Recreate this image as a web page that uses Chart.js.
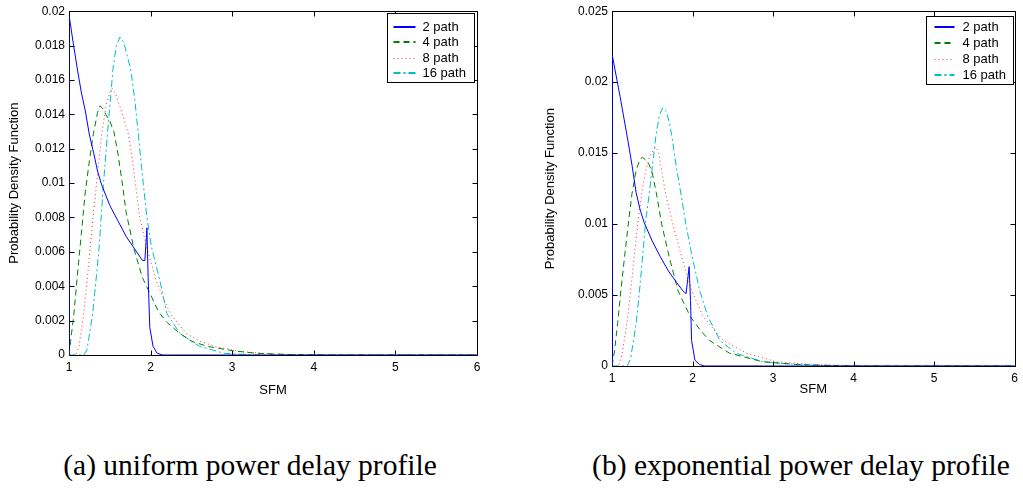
<!DOCTYPE html>
<html lang="en">
<head>
<meta charset="UTF-8">
<title>SFM probability density</title>
<script src="https://cdn.jsdelivr.net/npm/chart.js"></script>
<style>
  body { margin: 0; background: #fff; width: 1023px; height: 491px; position: relative; overflow: hidden; }
  canvas { position: absolute; top: 0; }
  #chartA { left: 0; }
  #chartB { left: 540px; }
  .caption { position: absolute; top: 451px; font-family: "Liberation Serif", "DejaVu Serif", serif; font-size: 29.5px; line-height: 1; white-space: nowrap; transform: translateX(-50%); color: #000; }
</style>
</head>
<body>
<canvas id="chartA" width="500" height="400"></canvas>
<canvas id="chartB" width="483" height="411"></canvas>
<div class="caption" style="left:250px">(a) uniform power delay profile</div>
<div class="caption" style="left:801px">(b) exponential power delay profile</div>

<script>
// tick values
var xTicks = [1, 2, 3, 4, 5, 6];
var yTicksA = [0, 0.002, 0.004, 0.006, 0.008, 0.01, 0.012, 0.014, 0.016, 0.018, 0.02];
var yTicksB = [0, 0.005, 0.01, 0.015, 0.02, 0.025];
var seriesNames = ['2 path', '4 path', '8 path', '16 path'];

// (a) uniform power delay profile
var xU2 = [1, 1.003, 1.05, 1.1, 1.15, 1.2, 1.25, 1.3, 1.35, 1.4, 1.5, 1.6, 1.7, 1.8, 1.9, 1.93, 1.955, 1.97, 1.99, 2.03, 2.08, 2.15, 6];
var yU2 = [0, 0.0197, 0.0182, 0.0167, 0.0153, 0.0142, 0.0128, 0.0118, 0.0107, 0.0099, 0.0087, 0.0078, 0.0069, 0.0062, 0.0055, 0.0055, 0.0074, 0.0045, 0.0016, 0.0005, 0.0001, 0, 0];
var xU4 = [1, 1.02, 1.06, 1.1, 1.15, 1.2, 1.25, 1.3, 1.35, 1.38, 1.42, 1.45, 1.5, 1.55, 1.6, 1.65, 1.7, 1.8, 1.9, 2.0, 2.1, 2.2, 2.36, 2.5, 2.7, 3.0, 3.3, 3.7, 4.2, 6];
var yU4 = [0, 0.0008, 0.0024, 0.0045, 0.0070, 0.0095, 0.0113, 0.0129, 0.0141, 0.0145, 0.0143, 0.0140, 0.0136, 0.0130, 0.0117, 0.0101, 0.0083, 0.0061, 0.0045, 0.0035, 0.0025, 0.0019, 0.00125, 0.0008, 0.0005, 0.00025, 0.0001, 0.00003, 0, 0];
var xU8 = [1, 1.08, 1.12, 1.18, 1.22, 1.26, 1.3, 1.34, 1.4, 1.45, 1.5, 1.53, 1.57, 1.65, 1.73, 1.79, 1.86, 1.95, 2.07, 2.24, 2.44, 2.6, 2.81, 3.1, 3.5, 4.0, 6];
var yU8 = [0, 0, 0.0004, 0.0024, 0.0042, 0.0063, 0.0083, 0.0101, 0.0128, 0.0144, 0.0153, 0.0155, 0.0152, 0.0141, 0.0128, 0.0109, 0.0082, 0.0063, 0.0043, 0.0024, 0.00125, 0.0008, 0.00048, 0.0002, 0.00005, 0, 0];
var xU16 = [1, 1.18, 1.22, 1.29, 1.33, 1.37, 1.42, 1.47, 1.54, 1.58, 1.625, 1.67, 1.72, 1.76, 1.81, 1.85, 1.89, 1.95, 2.01, 2.115, 2.2, 2.36, 2.6, 2.9, 3.3, 6];
var yU16 = [0, 0, 0.0003, 0.0024, 0.0043, 0.0063, 0.0098, 0.0128, 0.0167, 0.0180, 0.0185, 0.0182, 0.0173, 0.0165, 0.0147, 0.0128, 0.0109, 0.0082, 0.0063, 0.0043, 0.0024, 0.00125, 0.0005, 0.0001, 0, 0];

// (b) exponential power delay profile
var xE2 = [1, 1.003, 1.05, 1.1, 1.15, 1.2, 1.25, 1.3, 1.35, 1.4, 1.5, 1.6, 1.7, 1.8, 1.88, 1.92, 1.958, 1.975, 1.988, 2.03, 2.09, 2.15, 6];
var yE2 = [0, 0.0219, 0.0205, 0.0190, 0.0174, 0.0158, 0.0141, 0.0122, 0.0110, 0.0101, 0.0088, 0.0077, 0.0067, 0.0059, 0.0053, 0.0051, 0.0070, 0.0046, 0.0018, 0.0004, 0.0001, 0, 0];
var xE4 = [1, 1.03, 1.07, 1.11, 1.156, 1.2, 1.247, 1.3, 1.35, 1.38, 1.42, 1.46, 1.5, 1.55, 1.617, 1.71, 1.82, 1.97, 2.1, 2.21, 2.46, 2.87, 3.3, 4, 6];
var yE4 = [0, 0.0010, 0.0030, 0.0053, 0.0077, 0.0099, 0.0121, 0.0138, 0.0146, 0.0147, 0.0145, 0.0142, 0.0136, 0.0122, 0.0100, 0.0077, 0.0053, 0.0035, 0.0025, 0.0018, 0.0009, 0.0003, 0.0001, 0, 0];
var xE8 = [1, 1.08, 1.12, 1.185, 1.23, 1.275, 1.32, 1.37, 1.42, 1.47, 1.52, 1.55, 1.58, 1.61, 1.67, 1.76, 1.864, 1.99, 2.13, 2.38, 2.67, 3.04, 3.5, 4.2, 6];
var yE8 = [0, 0, 0.0007, 0.0030, 0.0052, 0.0077, 0.0100, 0.0122, 0.0138, 0.0148, 0.0153, 0.0154, 0.0150, 0.0140, 0.0120, 0.0099, 0.0077, 0.0053, 0.0035, 0.0018, 0.0009, 0.0003, 0.0001, 0, 0];
var xE16 = [1, 1.19, 1.23, 1.3, 1.34, 1.38, 1.42, 1.46, 1.5, 1.547, 1.59, 1.63, 1.67, 1.71, 1.74, 1.8, 1.86, 1.917, 1.995, 2.09, 2.19, 2.34, 2.54, 2.87, 3.3, 3.8, 6];
var yE16 = [0, 0, 0.0005, 0.0030, 0.0052, 0.0077, 0.0103, 0.0120, 0.0140, 0.0163, 0.0177, 0.0182, 0.0180, 0.0172, 0.0163, 0.0140, 0.0120, 0.0100, 0.0077, 0.0053, 0.0035, 0.0018, 0.0009, 0.0003, 0.0001, 0, 0];

var FONT = '"Liberation Sans", Arial, sans-serif';

var lineStyles = [
    { color: '#0000ff', dash: [], keyWidth: 2 },
    { color: '#008000', dash: [6, 4], keyWidth: 2 },
    { color: '#ff3030', dash: [1, 3], keyWidth: 1 },
    { color: '#00bfbf', dash: [7, 3, 2, 3], keyWidth: 2 }
];

function pts(xs, ys) {
    return xs.map(function (x, i) { return { x: x, y: ys[i] }; });
}

function makeSets(list) {
    return list.map(function (s, i) {
        return {
            label: seriesNames[i],
            data: pts(s[0], s[1]),
            borderColor: lineStyles[i].color,
            borderDash: lineStyles[i].dash,
            borderWidth: 1,
            pointRadius: 0,
            tension: 0,
            fill: false
        };
    });
}

// matlab style box with inward ticks (under the curves) and a boxed legend on top
var matlabFrame = {
    id: 'matlabFrame',
    beforeDatasetsDraw: function (chart) {
        var ctx = chart.ctx, a = chart.chartArea;
        var xs = chart.scales.x, ys = chart.scales.y;
        var L = Math.round(a.left) + 0.5, R = Math.round(a.right) + 0.5;
        var T = Math.round(a.top) + 0.5, B = Math.round(a.bottom) + 0.5;
        ctx.save();
        ctx.strokeStyle = '#000';
        ctx.lineWidth = 1;
        ctx.beginPath();
        ctx.rect(L, T, R - L, B - T);
        xs.ticks.forEach(function (t) {
            var p = Math.round(xs.getPixelForValue(t.value)) + 0.5;
            ctx.moveTo(p, B); ctx.lineTo(p, B - 5);
            ctx.moveTo(p, T); ctx.lineTo(p, T + 5);
        });
        ys.ticks.forEach(function (t) {
            var p = Math.round(ys.getPixelForValue(t.value)) + 0.5;
            ctx.moveTo(L, p); ctx.lineTo(L + 5, p);
            ctx.moveTo(R, p); ctx.lineTo(R - 5, p);
        });
        ctx.stroke();
        ctx.restore();
    },
    afterDatasetsDraw: function (chart, args, opts) {
        var ctx = chart.ctx, a = chart.chartArea;
        ctx.save();
        var lx = Math.round(a.right - opts.right - opts.width) + 0.5;
        var ly = Math.round(a.top + opts.top) + 0.5;
        ctx.fillStyle = '#fff';
        ctx.fillRect(lx, ly, opts.width, opts.height);
        ctx.strokeStyle = '#000';
        ctx.lineWidth = 1;
        ctx.setLineDash([]);
        ctx.strokeRect(lx, ly, opts.width, opts.height);
        ctx.font = '13px ' + FONT;
        ctx.textBaseline = 'middle';
        seriesNames.forEach(function (name, i) {
            var st = lineStyles[i];
            var yy = Math.round(ly + opts.firstRow + i * opts.rowGap) + (st.keyWidth % 2 ? 0.5 : 0);
            ctx.strokeStyle = st.color;
            ctx.lineWidth = st.keyWidth;
            ctx.setLineDash(st.dash);
            ctx.beginPath();
            ctx.moveTo(lx + opts.lineStart, yy);
            ctx.lineTo(lx + opts.lineEnd, yy);
            ctx.stroke();
            ctx.fillStyle = '#000';
            ctx.fillText(name, lx + opts.textStart, yy);
        });
        ctx.restore();
    }
};

function makeChart(id, sets, yTicks, yMax, cfg) {
    return new Chart(document.getElementById(id), {
        type: 'line',
        data: { datasets: makeSets(sets) },
        plugins: [matlabFrame],
        options: {
            responsive: false,
            animation: false,
            devicePixelRatio: 1,
            layout: { padding: { left: 0, top: 9, right: cfg.padRight, bottom: 0 } },
            plugins: {
                legend: { display: false },
                tooltip: { enabled: false },
                matlabFrame: cfg.legend
            },
            scales: {
                x: {
                    type: 'linear', min: 1, max: 6,
                    afterBuildTicks: function (s) { s.ticks = xTicks.map(function (v) { return { value: v }; }); },
                    afterFit: function (s) { s.height = 45; },
                    grid: { display: false, drawTicks: false },
                    border: { display: false },
                    ticks: { padding: 5, color: '#000', font: { family: FONT, size: 12 }, maxRotation: 0 },
                    title: { display: true, text: 'SFM', color: '#000', font: { family: FONT, size: 13 }, padding: { top: 0, bottom: cfg.xTitlePad } }
                },
                y: {
                    type: 'linear', min: 0, max: yMax,
                    afterBuildTicks: function (s) { s.ticks = yTicks.map(function (v) { return { value: v }; }); },
                    afterFit: function (s) { s.width = cfg.yWidth; },
                    grid: { display: false, drawTicks: false },
                    border: { display: false },
                    ticks: { padding: 4, color: '#000', font: { family: FONT, size: 12 }, callback: function (v) { return String(v); } },
                    title: { display: true, text: 'Probability Density Function', color: '#000', font: { family: FONT, size: 13 }, padding: { top: cfg.yTitlePad, bottom: 0 } }
                }
            }
        }
    });
}

makeChart('chartA', [[xU2, yU2], [xU4, yU4], [xU8, yU8], [xU16, yU16]], yTicksA, 0.02, {
    padRight: 23, yWidth: 69, xTitlePad: 2, yTitlePad: 7,
    legend: { right: 3, top: 2, width: 87, height: 69, firstRow: 13, rowGap: 15.6, lineStart: 6, lineEnd: 28, textStart: 35 }
});
makeChart('chartB', [[xE2, yE2], [xE4, yE4], [xE8, yE8], [xE16, yE16]], yTicksB, 0.025, {
    padRight: 7, yWidth: 72, xTitlePad: 14, yTitlePad: 3,
    legend: { right: 2, top: 5, width: 87, height: 68, firstRow: 10, rowGap: 16, lineStart: 8, lineEnd: 28, textStart: 36 }
});
</script>
</body>
</html>
